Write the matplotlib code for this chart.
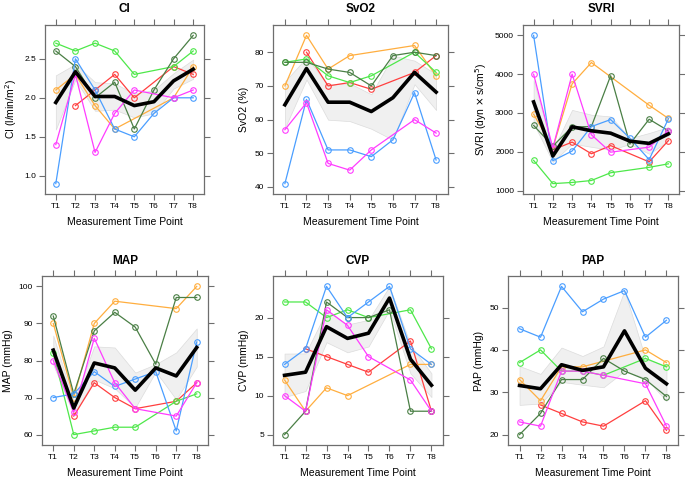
import numpy as np
import matplotlib.pyplot as plt

plt.rcParams['font.family'] = ['Liberation Sans', 'DejaVu Sans']

times = ['T1', 'T2', 'T3', 'T4', 'T5', 'T6', 'T7', 'T8']
n = None  # missing measurement

# one list per patient, order: red, orange, green, darkgreen, blue, magenta
ci_red = [n, 1.9, 2.1, 2.3, 2.0, n, 2.4, 2.3]
ci_orange = [2.1, 2.3, 1.9, 1.6, n, n, 2.0, 2.4]
ci_green = [2.7, 2.6, 2.7, 2.6, 2.3, n, 2.4, 2.6]
ci_dgreen = [2.6, 2.4, 2.0, 2.2, 1.6, 2.1, 2.5, 2.8]
ci_blue = [0.9, 2.5, 2.1, 1.6, 1.5, 1.8, 2.0, 2.0]
ci_magenta = [1.4, 2.3, 1.3, 1.8, 2.1, n, 2.0, 2.1]

svo2_red = [n, 80, 70, 71, 69, n, 74, 79]
svo2_orange = [70, 85, 75, 79, n, n, 82, 73]
svo2_green = [77, 78, 73, 71, 73, n, 80, 74]
svo2_dgreen = [77, 77, 75, 74, 70, 79, 80, 79]
svo2_blue = [41, 66, 51, 51, 49, 54, 68, 48]
svo2_magenta = [57, 65, 47, 45, 51, n, 60, 56]

svri_red = [n, 2050, 2250, 1950, 2160, n, 1740, 2290]
svri_orange = [2970, 2100, 3750, 4300, n, n, 3200, 2860]
svri_green = [1780, 1180, 1210, 1260, 1460, n, 1600, 1690]
svri_dgreen = [2680, 2150, 2640, 2650, 3960, 2200, 2840, 2540]
svri_blue = [5000, 1770, 2020, 2650, 2830, 2350, 1800, 2850]
svri_magenta = [4000, 2100, 4000, 2440, 1990, n, 2120, 2540]

map_red = [n, 65, 74, 70, 67, n, 69, 74]
map_orange = [90, 70, 90, 96, n, n, 94, 100]
map_green = [82, 60, 61, 62, 62, n, 69, 71]
map_dgreen = [92, 71, 88, 93, 89, 79, 97, 97]
map_blue = [70, 71, 77, 73, 75, 77, 61, 85]
map_magenta = [80, 66, 86, 74, 67, n, 65, 74]

cvp_red = [n, 16, 15, 14, 13, n, 17, 8]
cvp_orange = [12, 8, 11, 10, n, n, 14, 14]
cvp_green = [22, 22, 20, 21, 20, n, 21, 16]
cvp_dgreen = [5, 8, 22, 20, 20, 21, 8, 8]
cvp_blue = [14, 16, 24, 20, 22, 24, 16, 14]
cvp_magenta = [10, 8, 21, 19, 15, n, 12, 8]

pap_red = [n, 27, 25, 23, 22, n, 28, 21]
pap_orange = [33, 28, 36, 36, n, n, 40, 37]
pap_green = [37, 40, 35, 35, 34, n, 38, 36]
pap_dgreen = [20, 25, 33, 33, 38, 35, 33, 29]
pap_blue = [45, 43, 55, 49, 52, 54, 43, 47]
pap_magenta = [23, 22, 35, 35, 34, n, 32, 22]

colors = ['#FF3F3F', '#FFAE3F', '#4EE84A', '#4A7F45', '#4A9EFF', '#FF3CFF']

panels = [
    ('CI', 'CI (l/min/m$^2$)', [ci_red, ci_orange, ci_green, ci_dgreen, ci_blue, ci_magenta],
     [1.0, 1.5, 2.0, 2.5], ['1.0', '1.5', '2.0', '2.5'], [45, 25, 159, 169]),
    ('SvO2', 'SvO2 (%)', [svo2_red, svo2_orange, svo2_green, svo2_dgreen, svo2_blue, svo2_magenta],
     [40, 50, 60, 70, 80], None, [273, 25, 175, 169]),
    ('SVRI', 'SVRI (dyn $\\times$ s/cm$^5$)', [svri_red, svri_orange, svri_green, svri_dgreen, svri_blue, svri_magenta],
     [1000, 2000, 3000, 4000, 5000], None, [523, 25, 156, 169]),
    ('MAP', 'MAP (mmHg)', [map_red, map_orange, map_green, map_dgreen, map_blue, map_magenta],
     [60, 70, 80, 90, 100], None, [42, 276, 166, 169]),
    ('CVP', 'CVP (mmHg)', [cvp_red, cvp_orange, cvp_green, cvp_dgreen, cvp_blue, cvp_magenta],
     [5, 10, 15, 20], None, [273, 276, 170, 169]),
    ('PAP', 'PAP (mmHg)', [pap_red, pap_orange, pap_green, pap_dgreen, pap_blue, pap_magenta],
     [20, 30, 40, 50], None, [508, 276, 170, 169]),
]

W, H = 685, 478
fig = plt.figure(figsize=(W / 100, H / 100), dpi=100)
x = np.arange(1, len(times) + 1)
frame = '#6E6E6E'

for title, ylab, series, yt, ytl, (l, t, w, h) in panels:
    ax = fig.add_axes([l / W, 1 - (t + h) / H, w / W, h / H])
    arr = np.array([[np.nan if v is None else v for v in s] for s in series], dtype=float)
    cnt = np.sum(~np.isnan(arr), axis=0)
    mean = np.nanmean(arr, axis=0)
    se = np.nanstd(arr, axis=0, ddof=1) / np.sqrt(cnt)
    ax.fill_between(x, mean - se, mean + se, facecolor='#F0F0F0', edgecolor='#DCDCDC',
                    lw=0.5, zorder=1)
    for s, c in zip(arr, colors):
        ok = ~np.isnan(s)
        ax.plot(x[ok], s[ok], color=c, lw=0.9, marker='o', ms=4, mfc='none', mew=0.8, zorder=2)
    ax.plot(x, mean, color='black', lw=2.6, zorder=3)

    lo, hi = np.nanmin(arr), np.nanmax(arr)
    pad = (hi - lo) * 0.07
    ax.set_ylim(lo - pad, hi + pad)
    ax.set_xlim(0.45, 8.55)
    ax.set_xticks(x)
    ax.set_xticklabels(times)
    ax.set_yticks(yt)
    if ytl:
        ax.set_yticklabels(ytl)
    ax.tick_params(direction='out', length=4, width=0.8, color=frame, labelsize=6,
                   top=True, right=True, labeltop=False, labelright=False, pad=2.5)
    for sp in ax.spines.values():
        sp.set_color(frame)
        sp.set_linewidth(0.9)
    ax.set_title(title, fontsize=8.5, fontweight='bold', pad=9)
    ax.set_xlabel('Measurement Time Point', fontsize=7.5, labelpad=5)
    ax.set_ylabel(ylab, fontsize=7.5, labelpad=4)

fig.savefig('out.png', dpi=100)
